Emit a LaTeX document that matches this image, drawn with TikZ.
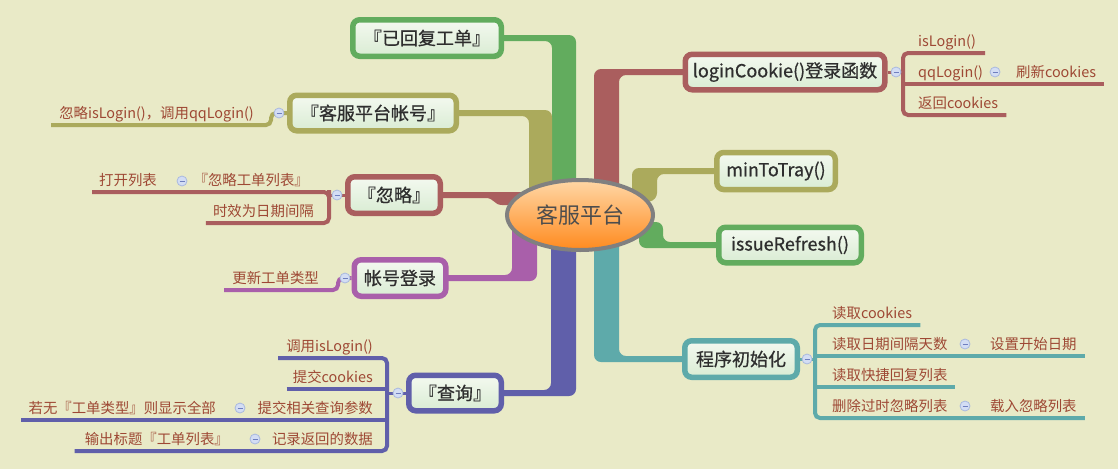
\documentclass[tikz,border=0pt]{standalone}
\usepackage{fontspec}
\setmainfont{Noto Sans CJK SC}
\newfontfamily\boxfont{Noto Sans CJK SC}[FakeBold=0.7]
\usetikzlibrary{calc,shapes.geometric}
\definecolor{bgc}{HTML}{E9EAC7}
\definecolor{cG}{HTML}{62AC5E}
\definecolor{cO}{HTML}{ABAA5C}
\definecolor{cR}{HTML}{AA5E5E}
\definecolor{cP}{HTML}{A95FAA}
\definecolor{cB}{HTML}{605FAA}
\definecolor{cT}{HTML}{5EAAAA}
\definecolor{subtext}{HTML}{9E4834}
\definecolor{maintext}{HTML}{2E2E2E}
\definecolor{boxtop}{HTML}{F4F9F0}
\definecolor{boxbot}{HTML}{D9ECD3}
\definecolor{ellc}{HTML}{808080}
\definecolor{elltop}{HTML}{FFD7A6}
\definecolor{ellbot}{HTML}{FF8A1E}
\definecolor{mkfill}{HTML}{D3DDF4}
\definecolor{mkbord}{HTML}{A9B9DF}
\definecolor{mkminus}{HTML}{6F7FBF}
\pgfdeclarelayer{bgl}\pgfdeclarelayer{brl}\pgfsetlayers{bgl,brl,main}
\begin{document}
\begin{tikzpicture}[x=1pt,y=-1pt,
  mainbox/.style={draw=#1, line width=5.5pt, rounded corners=7pt, top color=boxtop, bottom color=boxbot, inner sep=0pt, text=maintext, font=\boxfont\fontsize{18}{20}\selectfont},
  subl/.style={inner sep=0pt, text=subtext, font=\fontsize{14.4}{16}\selectfont},
  ul/.style={draw=#1, line width=4pt, rounded corners=5pt},
  con/.style={draw=#1, line width=3pt},
  branch/.style={fill=#1, rounded corners=7pt},
  mk/.style={circle, draw=mkbord, fill=mkfill, line width=0.8pt, minimum size=10pt, inner sep=0pt,
    path picture={\draw[mkminus, line width=1pt] ($(path picture bounding box.center)+(-2.5,0)$) -- ($(path picture bounding box.center)+(2.5,0)$);}}
]
\useasboundingbox (0,0) rectangle (1118,469);
\begin{pgfonlayer}{bgl}
\fill[bgc] (0,0) rectangle (1118,469);
\end{pgfonlayer}

% main nodes
\node[mainbox=cG, minimum width=148.5pt, minimum height=36.5pt] (yd) at (427,38) {『已回复工单』};
\node[mainbox=cO, minimum width=166.5pt, minimum height=35.5pt] (kf) at (373,113) {『客服平台帐号』};
\node[mainbox=cR, minimum width=92.5pt, minimum height=36.5pt] (ig) at (394,195) {『忽略』};
\node[mainbox=cP, minimum width=91.5pt, minimum height=36.5pt] (lg) at (400,278) {帐号登录};
\node[mainbox=cB, minimum width=92.5pt, minimum height=35.5pt] (qy) at (455,393) {『查询』};
\node[mainbox=cR, minimum width=199.5pt, minimum height=35.5pt] (lc) at (785,72) {loginCookie()登录函数};
\node[mainbox=cO, minimum width=118.5pt, minimum height=37pt] (mt) at (776,171) {minToTray()};
\node[mainbox=cG, minimum width=142.5pt, minimum height=35.5pt] (ir) at (790,245) {issueRefresh()};
\node[mainbox=cT, minimum width=112.5pt, minimum height=36.5pt] (in) at (741,359) {程序初始化};

\node[ellipse, draw=ellc, line width=4pt, top color=elltop, bottom color=ellbot, minimum width=146pt, minimum height=70pt, inner sep=0pt, text=maintext!85, font=\fontsize{22}{24}\selectfont] (root) at (580,215) {客服平台};

% main branches
\begin{pgfonlayer}{brl}
\fill[branch=cR] (594,215) -- (594,69) -- ($(lc.west)+(20,-3)$) -- ($(lc.west)+(20,3)$) -- (619,75) -- (619,215) -- cycle;
\fill[branch=cG] (576,215) -- (576,35) -- ($(yd.east)+(-20,-3)$) -- ($(yd.east)+(-20,3)$) -- (552,41) -- (552,215) -- cycle;
\fill[branch=cO] (552,215) -- (552,110) -- ($(kf.east)+(-20,-3)$) -- ($(kf.east)+(-20,3)$) -- (529,116) -- (529,215) -- cycle;
\fill[cR] (580,192) -- ($(ig.east)+(-20,-3)$) -- ($(ig.east)+(-20,3)$) -- (486,198) .. controls (494,198) and (494,205) .. (502,205) -- (580,205) -- cycle;
\fill[branch=cP] (512,215) -- (512,275) -- ($(lg.east)+(-20,-3)$) -- ($(lg.east)+(-20,3)$) -- (537,281) -- (537,215) -- cycle;
\fill[branch=cB] (551,215) -- (551,390) -- ($(qy.east)+(-20,-3)$) -- ($(qy.east)+(-20,3)$) -- (576,396) -- (576,215) -- cycle;
\fill[branch=cT] (619,215) -- (619,356) -- ($(in.west)+(20,-3)$) -- ($(in.west)+(20,3)$) -- (594,362) -- (594,215) -- cycle;
\fill[branch=cG] (663,222) -- (663,242) -- ($(ir.west)+(20,-3)$) -- ($(ir.west)+(20,3)$) -- (639,248) -- (639,222) -- cycle;
\fill[branch=cO] (632,205) -- (632,168) -- ($(mt.west)+(20,-3)$) -- ($(mt.west)+(20,3)$) -- (657,174) -- (657,200) -- cycle;
\end{pgfonlayer}

% loginCookie children
\node[subl, anchor=base west] (lc1) at (918,46) {isLogin()};
\node[subl, anchor=base west] (lc2) at (918,77) {qqLogin()};
\node[subl, anchor=base west] (lc2a) at (1016,77) {刷新cookies};
\node[subl, anchor=base west] (lc3) at (918,108) {返回cookies};
\coordinate (blc) at (903,72);
\draw[con=cR] (lc.east) -- (blc);
\draw[ul=cR] ($(lc1.base east)+(9,7)$) -| (blc) |- ($(lc3.base east)+(8,7)$);
\draw[ul=cR] ($(lc2.base west)+(-15,7)$) -- ($(lc2a.base east)+(8,7)$);
\node[mk] (mlc) at (896,72) {};
\node[mk] (mlc2) at (995,72) {};

% kefu account child
\node[subl, anchor=base east] (kf1) at (254,118) {忽略isLogin()，调用qqLogin()};
\draw[ul=cO] (kf.west) -| ($(kf1.base east)+(17,7)$) -- ($(kf1.base west)+(-8,7)$);
\node[mk] (mkf) at (279,113) {};

% ignore children
\node[subl, anchor=base east] (ig1) at (309,185) {『忽略工单列表』};
\node[subl, anchor=base east] (ig1a) at (157,185) {打开列表};
\node[subl, anchor=base east] (ig2) at (314,216) {时效为日期间隔};
\coordinate (big) at (329,195);
\draw[con=cR] (ig.west) -- (big);
\draw[ul=cR] ($(ig1a.base west)+(-7,7)$) -| (big) |- ($(ig2.base west)+(-7,7)$);
\node[mk] (mig) at (337,195) {};
\node[mk] (mig1) at (182,181) {};

% login child
\node[subl, anchor=base east] (lg1) at (319,283) {更新工单类型};
\draw[ul=cP] (lg.west) -| ($(lg1.base east)+(19,7)$) -- ($(lg1.base west)+(-8,7)$);
\node[mk] (mlg) at (345,278) {};

% query children
\node[subl, anchor=base east] (q1) at (373,351) {调用isLogin()};
\node[subl, anchor=base east] (q2) at (373,382) {提交cookies};
\node[subl, anchor=base east] (q3) at (373,413) {提交相关查询参数};
\node[subl, anchor=base east] (q3a) at (216,413) {若无『工单类型』则显示全部};
\node[subl, anchor=base east] (q4) at (373,444) {记录返回的数据};
\node[subl, anchor=base east] (q4a) at (229,444) {输出标题『工单列表』};
\coordinate (bq) at (387,393);
\draw[con=cB] (qy.west) -- (bq);
\draw[ul=cB] ($(q1.base west)+(-8,7)$) -| (bq) |- ($(q4a.base west)+(-10,7)$);
\draw[ul=cB] ($(q2.base west)+(-6,7)$) -- ($(q2.base east)+(14,7)$);
\draw[ul=cB] ($(q3a.base west)+(-7,7)$) -- ($(q3.base east)+(14,7)$);
\node[mk] (mqy) at (398,393) {};
\node[mk] (mq3) at (240,408) {};
\node[mk] (mq4) at (255,439) {};

% init children
\node[subl, anchor=base west] (i1) at (832,318) {读取cookies};
\node[subl, anchor=base west] (i2) at (832,349) {读取日期间隔天数};
\node[subl, anchor=base west] (i2a) at (990,349) {设置开始日期};
\node[subl, anchor=base west] (i3) at (832,380) {读取快捷回复列表};
\node[subl, anchor=base west] (i4) at (832,411) {删除过时忽略列表};
\node[subl, anchor=base west] (i4a) at (990,411) {载入忽略列表};
\coordinate (bi) at (815,359);
\draw[con=cT] (in.east) -- (bi);
\draw[ul=cT] ($(i1.base east)+(8,7)$) -| (bi) |- ($(i4a.base east)+(8,7)$);
\draw[ul=cT] ($(i2.base west)+(-17,7)$) -- ($(i2a.base east)+(8,7)$);
\draw[ul=cT] ($(i3.base west)+(-17,7)$) -- ($(i3.base east)+(7,7)$);
\node[mk] (min) at (807,359) {};
\node[mk] (mi2) at (965,344) {};
\node[mk] (mi4) at (965,406) {};
\end{tikzpicture}
\end{document}
